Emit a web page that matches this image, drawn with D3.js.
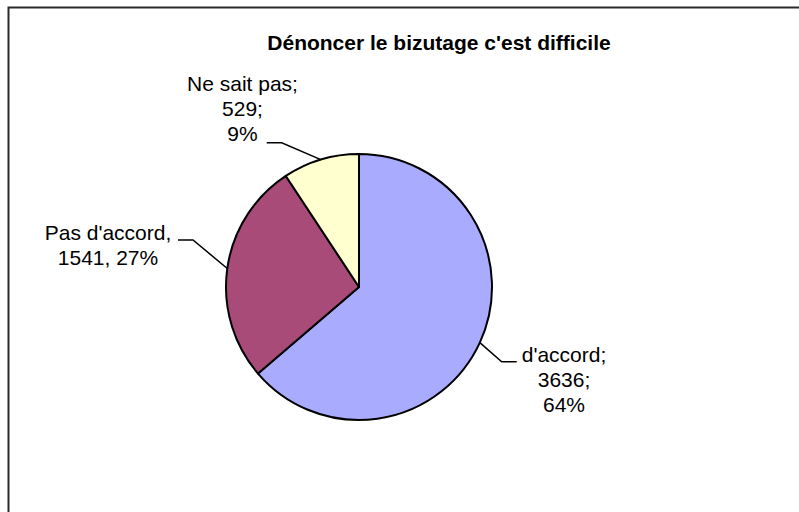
<!DOCTYPE html>
<html>
<head>
<meta charset="utf-8">
<script src="https://cdn.jsdelivr.net/npm/d3@7"></script>
<style>
  html, body { margin: 0; padding: 0; background: #fff; }
  svg { display: block; }
  text { font-family: "Liberation Sans", Arial, sans-serif; fill: #000; }
</style>
</head>
<body>
<svg id="chart" width="799" height="512"></svg>
<script>
// ---- data ----
const title = "Dénoncer le bizutage c'est difficile";
const categories = ["d'accord", "Pas d'accord", "Ne sait pas"];
const values = [3636, 1541, 529];
const percentLabels = ["64%", "27%", "9%"];
const colors = ["#a9abff", "#a94b78", "#ffffd0"];
// label text lines per slice (as in the reference)
const labelLines = [
  ["d'accord;", "3636;", "64%"],
  ["Pas d'accord,", "1541, 27%"],
  ["Ne sait pas;", "529;", "9%"]
];

// ---- layout (not data) ----
const W = 799, H = 512;
const cx = 359, cy = 287, R = 133;
const lineH = 25;
// label placement relative to pie centre: elbow and end of leader, text centre x and first baseline y
const labelLayout = [
  { elbow: [142.7, 74.7], end: [157.7, 74.7], tx: 205, ty: 75 },
  { elbow: [-166, -47], end: [-181, -47], tx: -251, ty: -47 },
  { elbow: [-77.3, -144.3], end: [-92.3, -144.3], tx: -116.5, ty: -196.3 }
];

const svg = d3.select("#chart");

// frame
svg.append("path")
  .attr("d", `M8.5,${H} V7.5 H${W}`)
  .attr("fill", "none")
  .attr("stroke", "#2b2b2b")
  .attr("stroke-width", 2);

// title
svg.append("text")
  .attr("x", 439)
  .attr("y", 50)
  .attr("text-anchor", "middle")
  .style("font-weight", "bold")
  .style("font-size", "21px")
  .text(title);

const pie = d3.pie().sort(null).value(d => d)(values);
const arc = d3.arc().innerRadius(0).outerRadius(R);
const edgeArc = d3.arc().innerRadius(R).outerRadius(R);

const g = svg.append("g").attr("transform", `translate(${cx},${cy})`);

g.selectAll("path.slice")
  .data(pie)
  .join("path")
  .attr("class", "slice")
  .attr("d", arc)
  .attr("fill", (d, i) => colors[i])
  .attr("stroke", "#000")
  .attr("stroke-width", 2)
  .attr("stroke-linejoin", "round");

// leader lines
g.selectAll("polyline.leader")
  .data(pie)
  .join("polyline")
  .attr("class", "leader")
  .attr("fill", "none")
  .attr("stroke", "#000")
  .attr("stroke-width", 1.5)
  .attr("points", (d, i) => {
    const p0 = edgeArc.centroid(d);
    const L = labelLayout[i];
    return [p0, L.elbow, L.end].map(p => p.join(",")).join(" ");
  });

// labels
const labels = g.selectAll("text.lbl")
  .data(pie)
  .join("text")
  .attr("class", "lbl")
  .attr("text-anchor", "middle")
  .style("font-size", "21px");

labels.each(function (d, i) {
  const L = labelLayout[i];
  d3.select(this).selectAll("tspan")
    .data(labelLines[i])
    .join("tspan")
    .attr("x", L.tx)
    .attr("y", (s, j) => L.ty + j * lineH)
    .text(s => s);
});
</script>
</body>
</html>
